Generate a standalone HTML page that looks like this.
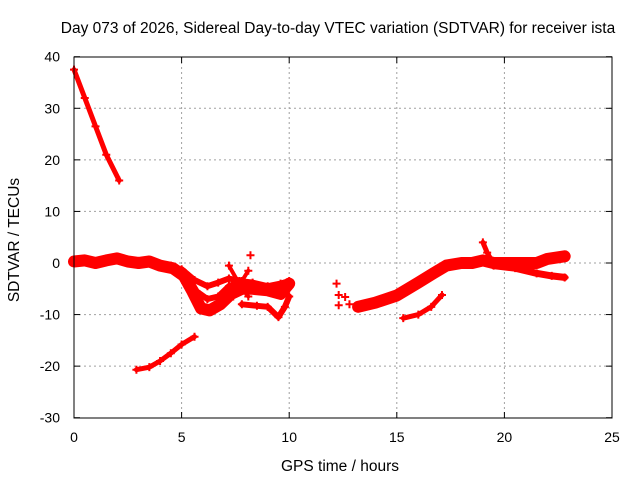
<!DOCTYPE html>
<html><head><meta charset="utf-8"><style>
body{margin:0;background:#fff}
svg{display:block;font-family:"Liberation Sans",sans-serif}
</style></head><body>
<svg id="chart" width="640" height="480">
<text x="338" y="33" text-anchor="middle" font-size="15.5">Day 073 of 2026, Sidereal Day-to-day VTEC variation (SDTVAR) for receiver ista</text>
<text x="340" y="471" text-anchor="middle" font-size="15.5">GPS time / hours</text>
<text x="0" y="0" transform="translate(19,240) rotate(-90)" text-anchor="middle" font-size="15.5">SDTVAR / TECUs</text>
<g id="grid"></g><g id="ticks"></g><g id="marks"></g>
<rect x="74" y="57" width="538" height="361" fill="none" stroke="#000" stroke-width="1"/>
</svg>
<script>
const xTicks=[0,5,10,15,20,25];
const yTicks=[-30,-20,-10,0,10,20,30,40];
const trackDescent=[[0,37.5],[0.5,32],[1,26.5],[1.5,21],[2.1,16]];
const trackMain=[[0,0.3],[0.5,0.5],[1,0],[1.5,0.5],[2,0.9],[2.5,0.3],[3,0],[3.5,0.3],[4,-0.5],[4.6,-1],[5.1,-2.5],[5.5,-5.5],[5.9,-8.8],[6.3,-9.2],[6.8,-8],[7.3,-6],[7.8,-5],[8.3,-5],[9,-5.3],[9.6,-6],[10,-4]];
const trackUpper=[[4.5,-0.5],[5.2,-2],[5.7,-5.5],[6.2,-7],[6.7,-6.5],[7.2,-4.5],[7.6,-3.8]];
const trackMid=[[5,-1.2],[5.6,-3.3],[6.2,-4.5],[6.7,-3.8],[7.2,-3],[7.7,-3.5],[8.3,-3.8],[9,-4.5],[9.6,-4],[10,-3.5]];
const trackCross=[[7.2,-0.5],[7.6,-3.5],[8.1,-6.5]];
const trackCross2=[[7.4,-6.5],[7.8,-3.5],[8.1,-1.5]];
const trackLowRight=[[7.8,-8],[8.5,-8.3],[9,-8.5],[9.5,-10.5],[9.8,-8.5],[10,-6.5]];
const trackLow=[[2.9,-20.7],[3.5,-20.2],[4,-19],[4.5,-17.5],[5,-15.8],[5.6,-14.3]];
const trackIsolated=[[8.2,1.5],[12.2,-4],[12.3,-6.2],[12.3,-8.2],[12.6,-6.6],[12.8,-8]];
const trackRise=[[13.2,-8.5],[14,-7.7],[15,-6.3],[16,-3.8],[16.7,-2],[17.3,-0.5],[18,0],[18.5,0],[19,0.5],[19.5,0],[20,0],[21,0],[21.5,0],[22,0.8],[22.8,1.3]];
const trackRight2=[[19.5,-0.5],[20.5,-1],[21.5,-2],[22.2,-2.5],[22.8,-2.8]];
const trackSpike=[[19,4],[19.2,2],[19.4,0.5]];
const trackLate=[[15.3,-10.7],[16,-10],[16.6,-8.5],[17.1,-6.2]];
const tracks=[[trackDescent,5],[trackMain,12],[trackUpper,6],[trackMid,6],[trackCross,4],[trackCross2,4],[trackLowRight,6],[trackLow,5],[trackRise,12],[trackRight2,7],[trackSpike,5],[trackLate,5]];
const X=h=>74+h*21.52, Y=v=>263-v*5.157;
const NS="http://www.w3.org/2000/svg";
const grid=document.getElementById('grid'),ticks=document.getElementById('ticks'),marks=document.getElementById('marks');
function mk(t,a,p){const e=document.createElementNS(NS,t);for(const k in a)e.setAttribute(k,a[k]);p.appendChild(e);return e;}
xTicks.forEach(t=>{const x=X(t);
 if(t>0&&t<25){const g=mk('line',{x1:x,y1:57,x2:x,y2:418,stroke:'#a0a0a0','stroke-dasharray':'2,3'},grid);
 
 }
 const l=mk('line',{x1:x,y1:418,x2:x,y2:412,stroke:'#000'},ticks);
 
 
 mk('line',{x1:x,y1:57,x2:x,y2:63,stroke:'#000'},ticks);
 const tx=mk('text',{x:x,y:442,'text-anchor':'middle','font-size':'14'},ticks);tx.textContent=t;
 
 });
yTicks.forEach(t=>{const y=Y(t);
 if(t>-30&&t<40){const g=mk('line',{x1:74,y1:y,x2:612,y2:y,stroke:'#a0a0a0','stroke-dasharray':'2,3'},grid);
 
 }
 const l=mk('line',{x1:74,y1:y,x2:80,y2:y,stroke:'#000'},ticks);
 
 
 mk('line',{x1:612,y1:y,x2:606,y2:y,stroke:'#000'},ticks);
 const tx=mk('text',{x:60,y:y+5,'text-anchor':'end','font-size':'14'},ticks);tx.textContent=t;
 
 });
tracks.forEach(([pts,w])=>{
 const d=pts.map((p,i)=>(i?'L':'M')+X(p[0]).toFixed(1)+','+Y(p[1]).toFixed(1)).join(' ');
 const p=mk('path',{d:d,fill:'none',stroke:'#f00','stroke-width':w,'stroke-linejoin':'round','stroke-linecap':'round'},marks);
 
 
 pts.forEach(q=>{const x=X(q[0]),y=Y(q[1]);
  const m=mk('path',{d:`M${x-4},${y}H${x+4}M${x},${y-4}V${y+4}`,stroke:'#f00','stroke-width':2},marks);
  
  });
});
trackIsolated.forEach(q=>{const x=X(q[0]),y=Y(q[1]);
 const m=mk('path',{d:`M${x-4},${y}H${x+4}M${x},${y-4}V${y+4}`,stroke:'#f00','stroke-width':2},marks);
 
 });
</script>
</body></html>
